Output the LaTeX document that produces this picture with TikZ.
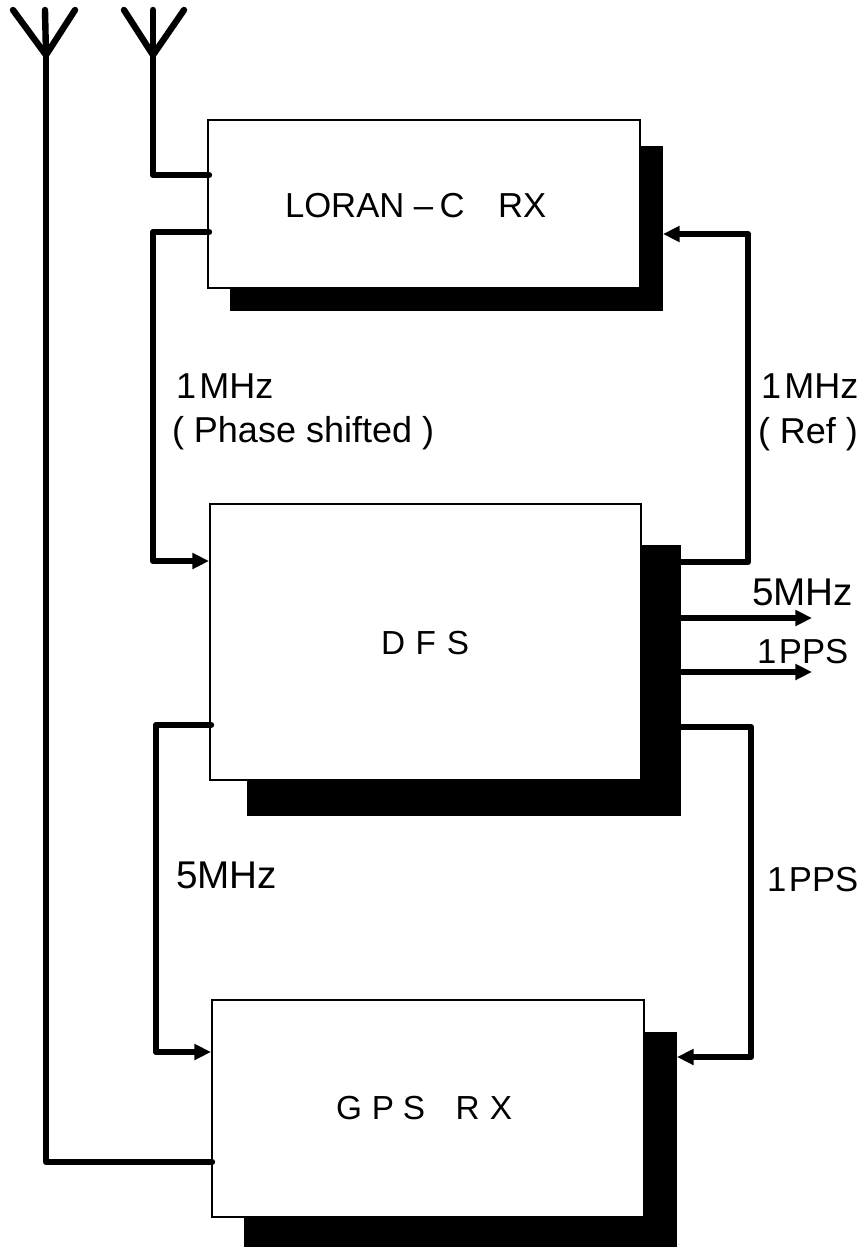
\documentclass[tikz,border=0pt]{standalone}
\usepackage{fontspec}
\setmainfont{Liberation Sans}
\usetikzlibrary{arrows.meta}
\tikzset{
  box/.style={draw=black,line width=0.8pt,fill=white,anchor=north west,inner sep=0pt,outer sep=0pt},
  shade/.style={fill=black,draw=none,anchor=north west,inner sep=0pt,outer sep=0pt},
  wire/.style={line width=4.8pt,line join=round,line cap=round},
  arr/.style={wire,-{Triangle[length=12.5pt,width=11.5pt]}},
  lab/.style={inner sep=0pt,outer sep=0pt,anchor=base west},
  ttl/.style={font=\fontsize{26}{30}\selectfont,inner sep=0pt,outer sep=0pt,anchor=base west},
}
\newcommand{\fs}[1]{\fontsize{#1}{#1}\selectfont}
\begin{document}
\begin{tikzpicture}[x=0.75pt,y=-0.75pt]
\useasboundingbox (0,0) rectangle (867,1247);
% shadows
\node[shade,minimum width=324.75pt,minimum height=123.75pt] (lorS) at (230,146) {};
\node[shade,minimum width=325.5pt,minimum height=203.25pt] (dfsS) at (247,545) {};
\node[shade,minimum width=324.75pt,minimum height=161.25pt] (gpsS) at (244,1032) {};
% boxes
\node[box,minimum width=324pt,minimum height=126pt] (lor) at (208,120) {};
\node[box,minimum width=323.25pt,minimum height=207pt] (dfs) at (210,504) {};
\node[box,minimum width=324pt,minimum height=162.75pt] (gps) at (212,1000) {};
% titles
\node[ttl] (tl) at (285,217) {LORAN\hspace{7pt}–\hspace{5pt}C\hspace{25pt}RX};
\node[ttl,font=\fontsize{25}{30}\selectfont] (td) at (381,654) {D\hspace{8pt}F\hspace{8pt}S};
\node[ttl,font=\fontsize{25}{30}\selectfont] (tg) at (336,1119) {G\hspace{7.5pt}P\hspace{6.5pt}S\hspace{23pt}R\hspace{7.5pt}X};
% antennas
\coordinate (a1l) at (13,10); \coordinate (a1c) at (45,10); \coordinate (a1r) at (75,10);
\coordinate (a1j) at (46,55);
\coordinate (a2l) at (124,10); \coordinate (a2c) at (153,10); \coordinate (a2r) at (184,10);
\coordinate (a2j) at (153,55);
\draw[wire] (a1l) -- (a1j) -- (a1r);
\draw[wire] (a1c) -- (a1j);
\draw[wire] (a2l) -- (a2j) -- (a2r);
\draw[wire] (a2c) -- (a2j);
% ports
\coordinate (gpA) at (212,1162);
\coordinate (lorA) at (209,175);
\coordinate (lorB) at (209,232);
\coordinate (dfsIn) at (209,561);
\coordinate (dfsOut) at (211,725);
\coordinate (gpsIn) at (211,1052);
\coordinate (rA) at (681,562);
\coordinate (rB) at (681,618);
\coordinate (rC) at (681,672);
\coordinate (rD) at (681,727);
\coordinate (lorR) at (663,234);
\coordinate (gpsR) at (677,1057);
\coordinate (oB) at (812,618);
\coordinate (oC) at (812,672);
% wires
\draw[wire] (a1j) -- (46,1162) -- (gpA);
\draw[wire] (a2j) -- (153,175) -- (lorA);
\draw[arr] (lorB) -- (153,232) -- (153,561) -- (dfsIn);
\draw[arr] (dfsOut) -- (156,725) -- (156,1052) -- (gpsIn);
\draw[arr] (rA) -- (748,562) -- (748,234) -- (lorR);
\draw[arr] (rD) -- (751,727) -- (751,1057) -- (gpsR);
\draw[arr] (rB) -- (oB);
\draw[arr] (rC) -- (oC);
% labels
\node[lab,font=\fs{27}] (l1) at (176,398) {1\kern2.5pt MHz};
\node[lab,font=\fs{27}] (l2) at (172,442) {( Phase shifted )};
\node[lab,font=\fs{27}] (l3) at (761,398) {1\kern2.5pt MHz};
\node[lab,font=\fs{27}] (l4) at (758,443) {( Ref )};
\node[lab,font=\fs{29}] (l5) at (752,605) {5MHz};
\node[lab,font=\fs{26}] (l6) at (757,663) {1\kern2pt PPS};
\node[lab,font=\fs{29}] (l7) at (176,888) {5MHz};
\node[lab,font=\fs{26}] (l8) at (767,891) {1\kern2pt PPS};
\end{tikzpicture}
\end{document}
